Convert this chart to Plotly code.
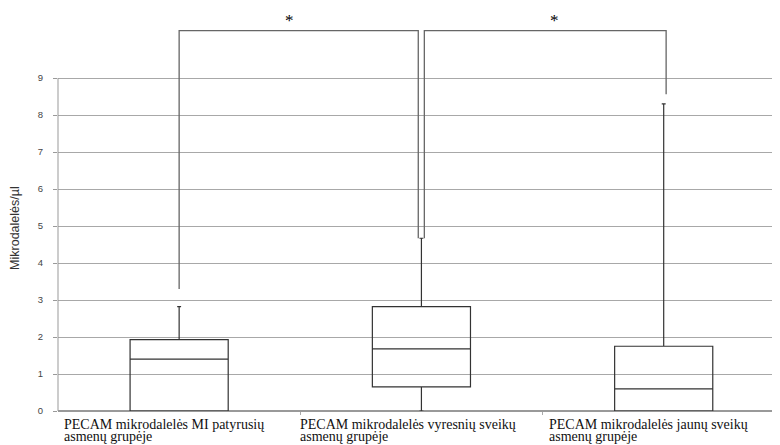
import plotly.graph_objects as go

# ---- data ----
categories = ["PECAM mikrodalelės MI patyrusių<br>asmenų grupėje",
              "PECAM mikrodalelės vyresnių sveikų<br>asmenų grupėje",
              "PECAM mikrodalelės jaunų sveikų<br>asmenų grupėje"]
q1_vals = [0.0, 0.65, 0.0]
median_vals = [1.4, 1.68, 0.6]
q3_vals = [1.93, 2.82, 1.75]
lower_vals = [0.0, 0.0, 0.0]
upper_vals = [2.82, 4.67, 8.3]
y_ticks = [0, 1, 2, 3, 4, 5, 6, 7, 8, 9]
# significance brackets
bracket_top = 10.28
bracket1 = dict(x0=0.0, x1=0.987, y0=3.3, y1=4.67)
bracket2 = dict(x0=1.012, x1=2.01, y0=4.67, y1=8.56)
star_labels = ["*", "*"]

fig = go.Figure()
for i in range(3):
    fig.add_trace(go.Box(
        x=[i], q1=[q1_vals[i]], median=[median_vals[i]], q3=[q3_vals[i]],
        lowerfence=[lower_vals[i]], upperfence=[upper_vals[i]],
        width=0.405, whiskerwidth=0.04,
        fillcolor="rgba(0,0,0,0)", line=dict(color="#333333", width=1.2),
        boxpoints=False, showlegend=False, hoverinfo="skip"))

for b in (bracket1, bracket2):
    fig.add_trace(go.Scatter(
        x=[b["x0"], b["x0"], b["x1"], b["x1"]],
        y=[b["y0"], bracket_top, bracket_top, b["y1"]],
        mode="lines", line=dict(color="#666666", width=1.3),
        showlegend=False, hoverinfo="skip", cliponaxis=False))

star_x = [(bracket1["x0"] + bracket1["x1"]) / 2 - 0.04,
          (bracket2["x0"] + bracket2["x1"]) / 2 + 0.04]
for sx, s in zip(star_x, star_labels):
    fig.add_annotation(x=sx, y=bracket_top, text=s, showarrow=False,
                       font=dict(family="Liberation Serif", size=17, color="#000000"),
                       xanchor="center", yanchor="bottom", yshift=-1)

label_shift = [-0.482, -0.51, -0.482]
for i, c in enumerate(categories):
    lines = c.split("<br>")
    for k, ln in enumerate(lines):
        fig.add_annotation(x=i + label_shift[i], y=0, yref="y", text=ln, showarrow=False,
                           xanchor="left", yanchor="top", align="left", yshift=-4 - 12 * k,
                           font=dict(family="Liberation Serif", size=14, color="#111111"))

# y axis title placed like the reference
fig.add_annotation(xref="paper", x=(15 - 58) / 722, y=4.95, yref="y",
                   text="Mikrodalelės/µl", textangle=-90, showarrow=False,
                   xanchor="center", yanchor="middle",
                   font=dict(family="Liberation Sans", size=12.5, color="#333333"))

# y axis line from 0 to 9
fig.add_shape(type="line", xref="paper", yref="y", x0=0, x1=0, y0=0, y1=9,
              line=dict(color="#999999", width=1))

# page body has an 8px margin: figure is sized so the plot lands where the reference has it
fig.update_layout(
    width=772, height=437,
    margin=dict(l=50, r=0, t=2, b=34, autoexpand=False),
    plot_bgcolor="white", paper_bgcolor="white",
    xaxis=dict(range=[-0.5, 2.48], showgrid=False, zeroline=False,
               tickvals=[0.5, 1.5], ticktext=["", ""], ticks="outside",
               ticklen=3, tickcolor="#aaaaaa",
               showline=False),
    yaxis=dict(range=[0, 10.84], tickvals=y_ticks, showgrid=True,
               gridcolor="#a8a8a8", gridwidth=1, zeroline=True,
               zerolinecolor="#999999", zerolinewidth=1.5,
               ticks="outside", ticklen=4, tickcolor="#999999",
               ticklabelstandoff=8,
               tickfont=dict(family="Liberation Sans", size=9.5, color="#444444"),
               showline=False, automargin=False),
)

fig.write_html("out.html")
